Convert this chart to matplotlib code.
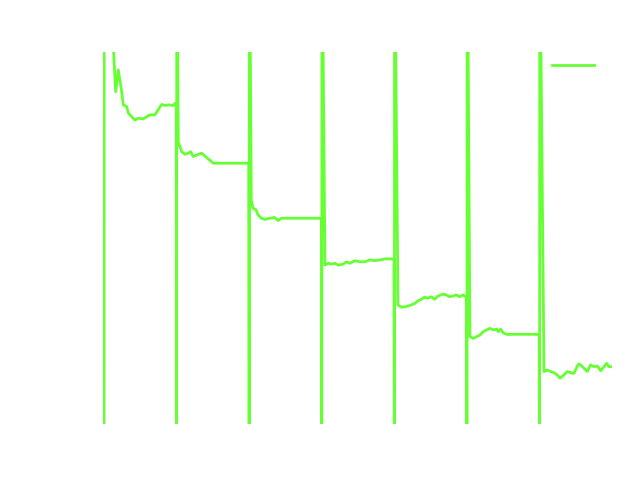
import matplotlib
matplotlib.use("Agg")
import matplotlib.pyplot as plt

# seven runs, 100 steps each; every run opens with a reset spike
seg_starts = [0, 100, 200, 300, 400, 500, 600]
spike_low = -0.3
spike_high = 1.5

seg_steps = [
    [8, 16.1, 19.7, 24.4, 26.6, 31.3, 33.5, 38.2, 42.7, 47.2, 54.1, 58.8, 63.4,
     70.2, 74.4, 79.5, 84.0, 88.6, 95.5, 97.8, 99.5],
    [1, 2.3, 7.0, 11.6, 16.1, 19.4, 23.0, 27.7, 34.6, 41.5, 50.6, 99.5],
    [1, 2.9, 5.2, 9.0, 12.1, 16.7, 21.3, 28.2, 35.1, 39.7, 44.2, 99.5],
    [1, 4.4, 9.0, 13.6, 18.2, 22.7, 29.6, 34.3, 38.8, 45.7, 52.6, 59.5, 66.4,
     73.3, 80.2, 87.1, 94.0, 98.5, 99.5],
    [1, 5.0, 9.5, 14.2, 18.7, 23.3, 28.0, 32.5, 37.0, 41.7, 46.3, 50.8, 55.5,
     60.1, 66.9, 71.5, 76.2, 80.7, 85.3, 90.0, 94.5, 98.2, 99.5],
    [1, 4.1, 8.7, 13.4, 17.9, 22.5, 27.1, 31.7, 36.2, 40.9, 43.1, 46.4, 50.0,
     54.7, 99.5],
    [1, 6.1, 10.6, 15.3, 19.8, 24.4, 28.1, 33.6, 38.2, 42.8, 47.4, 53.3, 56.6,
     61.2, 65.7, 70.4, 74.9, 79.5, 84.2, 88.7, 92.4, 95.6, 98.8],
]

seg_values = [
    [1.2, 0.893, 0.952, 0.893, 0.858, 0.853, 0.836, 0.826, 0.817, 0.822, 0.820,
     0.826, 0.831, 0.831, 0.844, 0.859, 0.856, 0.858, 0.856, 0.862, 0.860],
    [1.2, 0.759, 0.732, 0.725, 0.728, 0.732, 0.719, 0.723, 0.728, 0.716, 0.701,
     0.701],
    [1.2, 0.602, 0.580, 0.577, 0.562, 0.553, 0.550, 0.553, 0.555, 0.547, 0.553,
     0.553],
    [1.2, 0.427, 0.432, 0.430, 0.432, 0.427, 0.430, 0.436, 0.432, 0.439, 0.436,
     0.436, 0.441, 0.439, 0.441, 0.444, 0.444, 0.443, 0.443],
    [1.2, 0.320, 0.314, 0.315, 0.317, 0.320, 0.324, 0.331, 0.335, 0.341, 0.338,
     0.342, 0.335, 0.344, 0.349, 0.347, 0.342, 0.344, 0.347, 0.342, 0.347,
     0.342, 0.344],
    [1.2, 0.235, 0.230, 0.235, 0.239, 0.248, 0.253, 0.257, 0.253, 0.255, 0.248,
     0.255, 0.245, 0.241, 0.241],
    [1.2, 0.141, 0.145, 0.141, 0.138, 0.132, 0.123, 0.132, 0.141, 0.138, 0.136,
     0.161, 0.159, 0.150, 0.141, 0.159, 0.154, 0.156, 0.143, 0.154, 0.163,
     0.154, 0.154],
]

series_label = "loss"
line_color = "#66ff33"

xs, ys = [], []
for start, steps, vals in zip(seg_starts, seg_steps, seg_values):
    xs += [start, start + 0.3]
    ys += [spike_low, spike_high]
    xs += [start + s for s in steps]
    ys += vals

fig = plt.figure(figsize=(6.4, 4.8), dpi=100, facecolor="white")
ax = fig.add_axes([0.1602, 0.1167, 0.7963, 0.775])
ax.plot(xs, ys, color=line_color, linewidth=2, label=series_label)
ax.set_xlim(-2, 700)
ax.set_ylim(0, 1)
ax.axis("off")

leg = ax.legend(loc="upper left", bbox_to_anchor=(0.843, 0.903),
                bbox_transform=fig.transFigure, frameon=False,
                handlelength=3, handletextpad=0.5)
for t in leg.get_texts():
    t.set_color("white")

fig.savefig("out.png", dpi=100, facecolor="white")
